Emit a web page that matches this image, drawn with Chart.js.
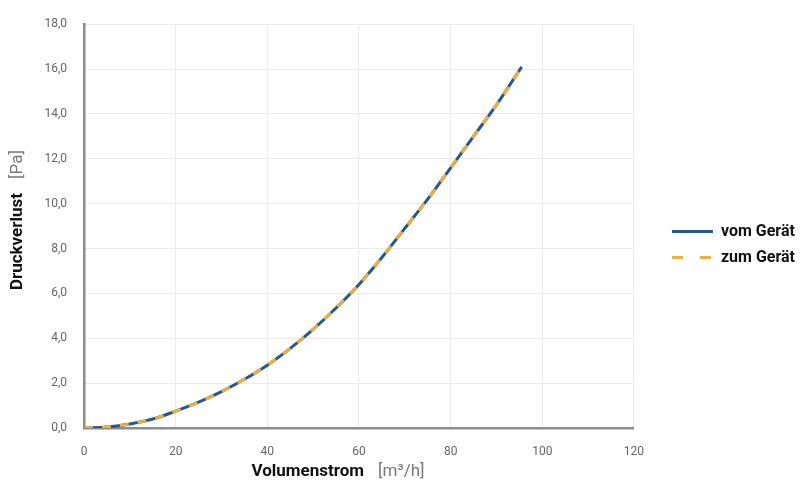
<!DOCTYPE html>
<html>
<head>
<meta charset="utf-8">
<script src="https://cdn.jsdelivr.net/npm/chart.js@4.4.1/dist/chart.umd.min.js"></script>
<style>
  html, body { margin: 0; padding: 0; background: #fff; }
  #wrap { width: 808px; height: 499px; }
</style>
</head>
<body>
<div id="wrap"><canvas id="chart" width="808" height="499"></canvas></div>
<script>
'use strict';

// Volumenstrom [m3/h] and Druckverlust [Pa]
var flow = [0, 5, 10, 15, 20, 25, 30, 35, 40, 45, 50, 55, 60, 65, 70, 75, 80, 85, 90, 95.5];
var lossFrom = [0, 0.05, 0.18, 0.4, 0.75, 1.15, 1.62, 2.17, 2.8, 3.55, 4.4, 5.35, 6.4, 7.6, 8.9, 10.2, 11.6, 13.0, 14.4, 16.1];
var lossTo = [0, 0.05, 0.18, 0.4, 0.75, 1.15, 1.62, 2.17, 2.8, 3.55, 4.4, 5.35, 6.4, 7.6, 8.9, 10.2, 11.6, 13.0, 14.4, 16.1];
var seriesNames = ['vom Gerät', 'zum Gerät'];
var xTicks = [0, 20, 40, 60, 80, 100, 120];
var yTicks = [0, 2, 4, 6, 8, 10, 12, 14, 16, 18];

var FONT = 'Roboto, "DejaVu Sans", sans-serif';

function toPoints(xs, ys) {
    var pts = [];
    for (var i = 0; i < xs.length; i++) {
        pts.push({ x: xs[i], y: ys[i] });
    }
    return pts;
}

// axis titles: bold black name followed by a grey unit
var axisTitles = {
    id: 'axisTitles',
    afterDraw: function (chart) {
        var ctx = chart.ctx;
        var area = chart.chartArea;
        var bold = '700 17px ' + FONT;
        var norm = '400 17px ' + FONT;

        function drawTitle(name, unit, cx, cy, rot) {
            ctx.save();
            ctx.translate(cx, cy);
            ctx.rotate(rot);
            ctx.textBaseline = 'middle';
            ctx.textAlign = 'left';
            ctx.font = bold;
            var w1 = ctx.measureText(name).width;
            ctx.font = norm;
            var gap = 14;
            var w2 = ctx.measureText(unit).width;
            var start = -(w1 + gap + w2) / 2;
            ctx.font = bold;
            ctx.fillStyle = '#111';
            ctx.fillText(name, start, 0);
            ctx.font = norm;
            ctx.fillStyle = '#777';
            ctx.fillText(unit, start + w1 + gap, 0);
            ctx.restore();
        }

        drawTitle('Volumenstrom', '[m³/h]', (area.left + area.right) / 2 - 21, 472, 0);
        drawTitle('Druckverlust', '[Pa]', 18, (area.top + area.bottom) / 2 - 6, -Math.PI / 2);
    }
};

// legend entries keep the dataset dash even with a line point style
function legendLabels(chart) {
    var items = Chart.defaults.plugins.legend.labels.generateLabels(chart);
    items.forEach(function (item) {
        var ds = chart.data.datasets[item.datasetIndex];
        item.lineDash = ds.borderDash ? [11, 17] : [];
        item.lineWidth = 3;
    });
    return items;
}

var ctx = document.getElementById('chart').getContext('2d');

new Chart(ctx, {
    type: 'line',
    data: {
        datasets: [
            {
                label: seriesNames[0],
                data: toPoints(flow, lossFrom),
                borderColor: '#22598f',
                backgroundColor: '#22598f',
                borderWidth: 3,
                pointRadius: 0,
                cubicInterpolationMode: 'monotone',
                order: 2
            },
            {
                label: seriesNames[1],
                data: toPoints(flow, lossTo),
                borderColor: '#f1ae3d',
                backgroundColor: '#f1ae3d',
                borderWidth: 3,
                borderDash: [9, 9],
                pointRadius: 0,
                cubicInterpolationMode: 'monotone',
                order: 1
            }
        ]
    },
    options: {
        responsive: false,
        animation: false,
        layout: { padding: { top: 1, right: 3, left: 0, bottom: 0 } },
        plugins: {
            tooltip: { enabled: false },
            legend: {
                position: 'right',
                align: 'center',
                fullSize: false,
                maxWidth: 220,
                title: {
                    display: true,
                    text: ' ',
                    font: { size: 14 },
                    padding: { top: 10, bottom: 10 }
                },
                labels: {
                    usePointStyle: true,
                    pointStyle: 'line',
                    pointStyleWidth: 41,
                    padding: 10,
                    color: '#111',
                    font: { family: FONT, size: 16, weight: '700' },
                    generateLabels: legendLabels,
                    sort: function (a, b) { return a.datasetIndex - b.datasetIndex; }
                }
            }
        },
        scales: {
            x: {
                type: 'linear',
                min: 0,
                max: 120,
                afterFit: function (scale) { scale.height = 71; },
                afterBuildTicks: function (scale) {
                    scale.ticks = xTicks.map(function (v) { return { value: v }; });
                },
                grid: { color: '#ececec', lineWidth: 1, drawTicks: false },
                border: { color: '#8c8c8c', width: 2.5 },
                ticks: {
                    padding: 17,
                    color: '#666',
                    font: { family: FONT, size: 12 },
                    maxRotation: 0
                }
            },
            y: {
                type: 'linear',
                min: 0,
                max: 18,
                afterFit: function (scale) { scale.width = 84; },
                afterBuildTicks: function (scale) {
                    scale.ticks = yTicks.map(function (v) { return { value: v }; });
                },
                grid: { color: '#ececec', lineWidth: 1, drawTicks: false },
                border: { color: '#8c8c8c', width: 2.5 },
                ticks: {
                    padding: 17,
                    color: '#666',
                    font: { family: FONT, size: 12 },
                    callback: function (v) { return v.toFixed(1).replace('.', ','); }
                }
            },
            // empty strip between the plot and the legend
            gap: {
                type: 'linear',
                position: 'right',
                display: true,
                afterFit: function (scale) { scale.width = 28; },
                grid: { display: false, drawOnChartArea: false },
                border: { display: false },
                ticks: { display: false }
            }
        }
    },
    plugins: [axisTitles]
});
</script>
</body>
</html>
